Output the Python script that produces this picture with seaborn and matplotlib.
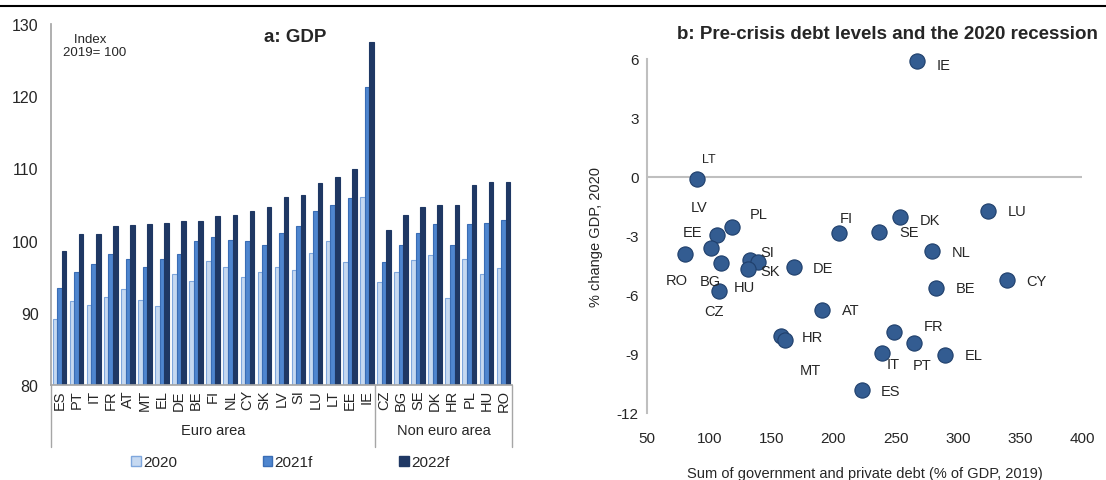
import numpy as np
import pandas as pd
import matplotlib
matplotlib.use('Agg')
import matplotlib.pyplot as plt
import matplotlib.patches as mpatches
import seaborn as sns

# panel a: GDP index, 2019 = 100
countries = ['ES', 'PT', 'IT', 'FR', 'AT', 'MT', 'EL', 'DE', 'BE', 'FI', 'NL', 'CY', 'SK', 'LV',
             'SI', 'LU', 'LT', 'EE', 'IE', 'CZ', 'BG', 'SE', 'DK', 'HR', 'PL', 'HU', 'RO']
gdp_2020 = [89.2, 91.6, 91.1, 92.2, 93.3, 91.8, 91.0, 95.4, 94.4, 97.2, 96.3, 94.9, 95.7, 96.4,
            95.9, 98.3, 100.0, 97.1, 106.0, 94.3, 95.7, 97.3, 98.0, 92.0, 97.5, 95.4, 96.2]
gdp_2021 = [93.4, 95.7, 96.8, 98.2, 97.4, 96.4, 97.5, 98.1, 100.0, 100.5, 100.1, 100.0, 99.4, 101.0,
            102.0, 104.1, 105.0, 105.9, 121.3, 97.1, 99.4, 101.1, 102.3, 99.4, 102.3, 102.5, 102.9]
gdp_2022 = [98.5, 100.9, 100.9, 102.0, 102.2, 102.3, 102.5, 102.7, 102.7, 103.4, 103.5, 104.1, 104.7, 106.1,
            106.3, 108.0, 108.8, 109.9, 127.5, 101.4, 103.5, 104.7, 105.0, 105.0, 107.7, 108.1, 108.1]
years = ['2020', '2021f', '2022f']
groups = ['Euro area', 'Non euro area']
n_euro = 19

# panel b: debt vs 2020 growth
sc_names = ['IE', 'LT', 'LU', 'DK', 'SE', 'FI', 'PL', 'EE', 'LV', 'RO', 'BG', 'SI', 'SK', 'HU', 'CZ',
            'DE', 'NL', 'CY', 'BE', 'AT', 'HR', 'MT', 'FR', 'PT', 'IT', 'EL', 'ES']
debt = [266.9, 90.3, 324.2, 253.2, 236.5, 204.8, 118.3, 106.2, 101.6, 80.6, 109.4, 133.1, 139.5, 130.9, 107.8,
        168.5, 279.3, 339.3, 282.8, 190.6, 157.8, 161.0, 248.4, 264.5, 239.0, 289.8, 222.8]
growth = [5.9, -0.1, -1.73, -2.05, -2.78, -2.86, -2.52, -2.93, -3.61, -3.91, -4.37, -4.22, -4.34, -4.68, -5.8,
          -4.56, -3.78, -5.22, -5.66, -6.76, -8.07, -8.30, -7.86, -8.45, -8.96, -9.03, -10.83]
# label offsets in pixels (right, down)
lab_dx = [27, 12, 29, 30, 30, 7, 27, -24, -12, -8, -11, 17, 12, -3, -5, 29, 29, 30, 29, 29, 31, 25, 40, 9, 11, 29, 29]
lab_dy = [4, -20, 0, 3, 0, -15, -13, -3, -41, 26, 18, -8, 9, 18, 20, 1, 1, 1, 0, 0, 1, 30, -6, 22, 11, 0, 1]

sns.set_theme(style='white')
plt.rcParams['font.family'] = ['Liberation Sans', 'DejaVu Sans']
plt.rcParams['axes.unicode_minus'] = False

W, H = 1106, 481
fig = plt.figure(figsize=(W / 100, H / 100), dpi=100)

bar_fill = ['#C6D9F1', '#4F86CF', '#1F3864']
bar_edge = ['#7FA7DD', '#3A6DB5', '#1F3864']

df = pd.DataFrame({
    'country': countries * 3,
    'year': np.repeat(years, len(countries)),
    'value': gdp_2020 + gdp_2021 + gdp_2022,
})

ax1 = fig.add_axes([51 / W, 1 - 386 / H, (512 - 51) / W, (386 - 25) / H])
sns.barplot(data=df, x='country', y='value', hue='year', palette=bar_fill,
            width=0.8, ax=ax1, legend=False, saturation=1)
for i, cont in enumerate(ax1.containers):
    for p in cont:
        p.set_edgecolor(bar_edge[i])
        p.set_linewidth(0.8)
ax1.set_ylim(80, 130)
ax1.set_xlim(-0.5, len(countries) - 0.5)
ax1.set_yticks(range(80, 131, 10))
ax1.tick_params(axis='y', labelsize=11.5, length=0, pad=9)
ax1.tick_params(axis='x', labelsize=10.5, length=0, pad=3, rotation=90)
ax1.set_xlabel('')
ax1.set_ylabel('')
for s in ['top', 'right']:
    ax1.spines[s].set_visible(False)
ax1.spines['left'].set_color('#A6A6A6')
ax1.spines['bottom'].set_color('#A6A6A6')
ax1.text(0.53, 0.99, 'a: GDP', transform=ax1.transAxes, ha='center', va='top',
         fontsize=13.5, fontweight='bold')
ax1.text(0.025, 0.975, '   Index\n2019= 100', transform=ax1.transAxes, ha='left', va='top',
         fontsize=9.5, linespacing=1.1)

# group separators and labels under the axis
tr = ax1.get_xaxis_transform()
for xs in [-0.5, n_euro - 0.5, len(countries) - 0.5]:
    ax1.plot([xs, xs], [0, -0.172], transform=tr, color='#A6A6A6', lw=1, clip_on=False)
ax1.text((n_euro - 1) / 2, -0.125, groups[0], transform=tr, ha='center', va='center', fontsize=10.5)
ax1.text((n_euro + len(countries) - 1) / 2, -0.125, groups[1], transform=tr, ha='center', va='center',
         fontsize=10.5)

handles = [mpatches.Patch(facecolor=bar_fill[i], edgecolor=bar_edge[i], label=years[i]) for i in range(3)]
fig.legend(handles=handles, loc='center', bbox_to_anchor=(290 / W, 1 - 463 / H), ncol=3,
           frameon=False, fontsize=11, handlelength=0.65, handleheight=0.65,
           handletextpad=0.15, columnspacing=5.6)

# panel b
ax2 = fig.add_axes([647 / W, 1 - 414 / H, (1082 - 647) / W, (414 - 60) / H])
sns.scatterplot(x=debt, y=growth, ax=ax2, s=120, color='#335C91', edgecolor='#1F3F6B',
                linewidth=0.8, zorder=3, clip_on=False)
ax2.set_xlim(50, 400)
ax2.set_ylim(-12, 6)
ax2.set_xticks(range(50, 401, 50))
ax2.set_yticks(range(-12, 7, 3))
ax2.tick_params(labelsize=11, length=0)
ax2.tick_params(axis='y', pad=6)
ax2.tick_params(axis='x', pad=13)
for s in ['top', 'right', 'bottom']:
    ax2.spines[s].set_visible(False)
ax2.spines['left'].set_color('#BFBFBF')
ax2.spines['left'].set_linewidth(1.5)
ax2.axhline(0, color='#BFBFBF', lw=1.5, zorder=1)
ax2.set_ylabel('% change GDP, 2020', fontsize=10.5, labelpad=10)
ax2.set_xlabel('Sum of government and private debt (% of GDP, 2019)', fontsize=10.5, labelpad=15)
ax2.set_title('b: Pre-crisis debt levels and the 2020 recession', fontsize=13.5,
              fontweight='bold', x=0.552, y=1.035)
for name, xv, yv, dx, dy in zip(sc_names, debt, growth, lab_dx, lab_dy):
    ax2.annotate(name, (xv, yv), xytext=(dx * 0.72, -dy * 0.72), textcoords='offset points',
                 ha='center', va='center', fontsize=9 if name == 'LT' else 10.5)

# thin rule across the top
fig.add_artist(plt.Line2D([0, 1], [1 - 7 / H, 1 - 7 / H], color='black', lw=1.5))

fig.savefig('out.png', dpi=100)
